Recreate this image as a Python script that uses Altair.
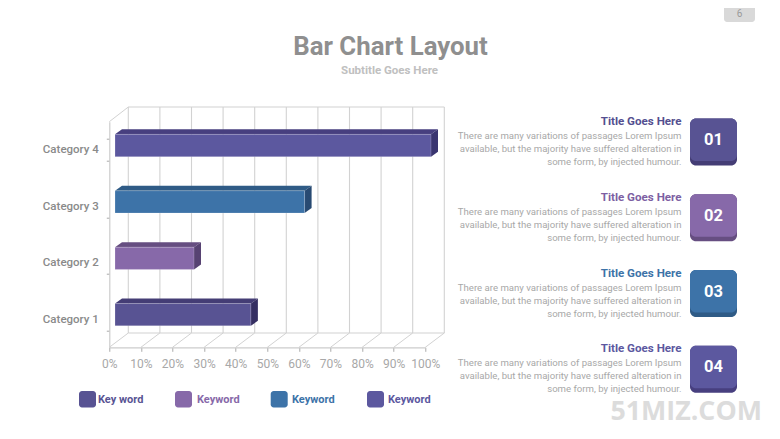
import altair as alt
import pandas as pd

CATEGORIES = ["Category 1", "Category 2", "Category 3", "Category 4"]
VALUES = [43, 25, 60, 100]
FACE = ["#585393", "#8769A9", "#3D73A8", "#5C589F"]
TOP = ["#443D75", "#664E81", "#2F5B86", "#473F7F"]
SIDE = ["#352F62", "#574272", "#284A72", "#3A3570"]
TICKS = list(range(0, 101, 10))

PANEL_TITLES = ["Title Goes Here"] * 4
PANEL_NUMBERS = ["01", "02", "03", "04"]
PANEL_TITLE_COLORS = ["#544F90", "#7D5FA3", "#3D73A8", "#5C589F"]
BODY = ["There are many variations of passages Lorem Ipsum",
        "available, but the majority have suffered alteration in",
        "some form, by injected humour."]
LEGEND = ["Key word", "Keyword", "Keyword", "Keyword"]

X0, Y0 = 109.3, 121.7
W, H = 316.0, 225.6
PX_PER_PCT = W / 100
PX_PER_UNIT = H / 4
FONT = "Roboto"

def px(v): return v - X0
def py(v): return v - Y0

START = 5.7 / PX_PER_PCT
BACK = 19.0 / PX_PER_PCT
DX = 7.0 / PX_PER_PCT
DY = 5.0 / PX_PER_UNIT
CY = 4.4 / PX_PER_UNIT
HALF = 11.15 / PX_PER_UNIT

x_scale = alt.Scale(domain=[0, 100], nice=False, zero=False)
x_enc = alt.X("x:Q", scale=x_scale, title=None,
              axis=alt.Axis(values=TICKS, labelExpr="datum.value + '%'", grid=False,
                            domainColor="#CCCCCC", tickColor="#AAAAAA", tickSize=4,
                            labelColor="#A8A8A8", labelFont=FONT, labelFontSize=12,
                            labelPadding=7, domainWidth=1.2, labelOverlap=False,
                            labelBound=False, labelFlush=False))

grid = pd.DataFrame({"x": TICKS, "xb": [t + BACK for t in TICKS]})
GRID = "#D2D2D2"
back_v = alt.Chart(pd.DataFrame({"x": [t + BACK for t in TICKS]})).mark_rule(color=GRID, strokeWidth=1.1).encode(
    x=x_enc, y=alt.value(py(107)), y2=alt.value(py(333)))
floor = alt.Chart(grid).mark_rule(color=GRID, strokeWidth=1).encode(
    x=x_enc, x2="xb:Q", y=alt.value(py(347.3)), y2=alt.value(py(333)))
h_lines = alt.Chart(pd.DataFrame({"x": [BACK], "x2": [100 + BACK]})).mark_rule(color=GRID, strokeWidth=1.1)
back_top = h_lines.encode(x=x_enc, x2="x2:Q", y=alt.value(py(107)))
back_bot = h_lines.encode(x=x_enc, x2="x2:Q", y=alt.value(py(333)))
corner = alt.Chart(pd.DataFrame({"x": [0], "x2": [BACK]})).mark_rule(color=GRID, strokeWidth=1).encode(
    x=x_enc, x2="x2:Q", y=alt.value(py(121.7)), y2=alt.value(py(107)))

rows = []
for i, (cat, val) in enumerate(zip(CATEGORIES, VALUES)):
    x0, x1 = START, START + val
    t = i + 0.5 + CY + HALF
    b = i + 0.5 + CY - HALF
    k = cat + " top"
    rows += [dict(key=k, x=x0, y=t, y2=t), dict(key=k, x=x0 + DX, y=t + DY, y2=t),
             dict(key=k, x=x1, y=t + DY, y2=t), dict(key=k, x=x1 + DX, y=t + DY, y2=t + DY)]
    k = cat + " side"
    rows += [dict(key=k, x=x1, y=t, y2=b), dict(key=k, x=x1 + DX, y=t + DY, y2=b + DY)]
faces = pd.DataFrame(rows)
keys = [c + " top" for c in CATEGORIES] + [c + " side" for c in CATEGORIES]
depth = alt.Chart(faces).mark_area(orient="vertical").encode(
    x=x_enc,
    y=alt.Y("y:Q", stack=None, scale=alt.Scale(domain=[0, 4], nice=False, zero=False), axis=None),
    y2="y2:Q",
    color=alt.Color("key:N", scale=alt.Scale(domain=keys, range=TOP + SIDE), legend=None),
    detail="key:N")

bars_df = pd.DataFrame({"cat": CATEGORIES, "x": [START] * 4, "x2": [START + v for v in VALUES]})
front = alt.Chart(bars_df).mark_bar(yOffset=-4.4, y2Offset=-4.4, stroke="#FFFFFF", strokeOpacity=0.25, strokeWidth=0.8).encode(
    x=x_enc, x2="x2:Q",
    y=alt.Y("cat:N", title=None,
            scale=alt.Scale(domain=CATEGORIES[::-1], paddingInner=0.605, paddingOuter=0.3025),
            axis=alt.Axis(tickBand="extent", domainColor="#CCCCCC", tickColor="#AAAAAA", tickSize=3,
                          labelColor="#8A8A8A", labelFont=FONT, labelFontSize=11.5, labelFontWeight=500,
                          labelPadding=8, domainWidth=1.2)),
    color=alt.Color("cat:N", scale=alt.Scale(domain=CATEGORIES, range=FACE), legend=None))

def text(s, x, y, size, color, weight="normal", align="left", font=FONT):
    return alt.Chart(alt.Data(values=[{}])).mark_text(
        text=s, fontSize=size, color=color, fontWeight=weight, align=align, baseline="middle", font=font
    ).encode(x=alt.value(px(x)), y=alt.value(py(y)))

def box(x, x2, y, y2, color, radius=0):
    return alt.Chart(alt.Data(values=[{}])).mark_rect(color=color, cornerRadius=radius).encode(
        x=alt.value(px(x)), x2=alt.value(px(x2)), y=alt.value(py(y)), y2=alt.value(py(y2)))

deco = [
    text("Bar Chart Layout", 390.5, 46.5, 25.8, "#8F8F8F", "bold", "center"),
    text("Subtitle Goes Here", 389.5, 70.5, 11.5, "#C0C0C0", "bold", "center"),
    box(724, 755, 0, 22, "#D9D9D9", 3),
    text("6", 739.5, 13.5, 10, "#9A9A9A", "normal", "center"),
    text("51MIZ.COM", 762, 411.5, 26.8, "#DCDCDC", "bold", "right", "Open Sans"),
]

tile_tops = [118.5, 194.2, 270, 345.7]
for i, top in enumerate(tile_tops):
    deco += [
        box(690, 737, top, top + 47, TOP[i], 6),
        box(690, 737, top, top + 42.5, FACE[i], 6),
        text(PANEL_NUMBERS[i], 713.5, top + 21.5, 16.5, "#FFFFFF", "bold", "center"),
        text(PANEL_TITLES[i], 681.5, top + 3.5, 11.6, PANEL_TITLE_COLORS[i], "bold", "right"),
    ]
    for j, line in enumerate(BODY):
        deco.append(text(line, 681.5, top + 17.5 + 13 * j, 9.6, "#A8A8A8", "normal", "right"))

legend_x = [79, 175, 270.7, 367]
legend_label_x = [98, 197, 292, 388]
for i, lx in enumerate(legend_x):
    deco += [
        box(lx, lx + 17, 391, 407.5, FACE[i], 3),
        text(LEGEND[i], legend_label_x[i], 399.5, 11, FACE[i], "bold"),
    ]

chart = alt.layer(back_v, floor, back_top, back_bot, corner, depth, front, *deco).resolve_scale(
    y="independent", color="independent", x="shared"
).properties(
    width=W, height=H,
    padding={"left": X0 - 8, "top": Y0 - 8, "right": 772 - X0 - W, "bottom": 431 - Y0 - H},
    autosize=alt.AutoSizeParams(type="none"),
    background="#FFFFFF",
).configure_view(stroke=None)

chart.save("out.html", embed_options={"renderer": "svg", "actions": False})
